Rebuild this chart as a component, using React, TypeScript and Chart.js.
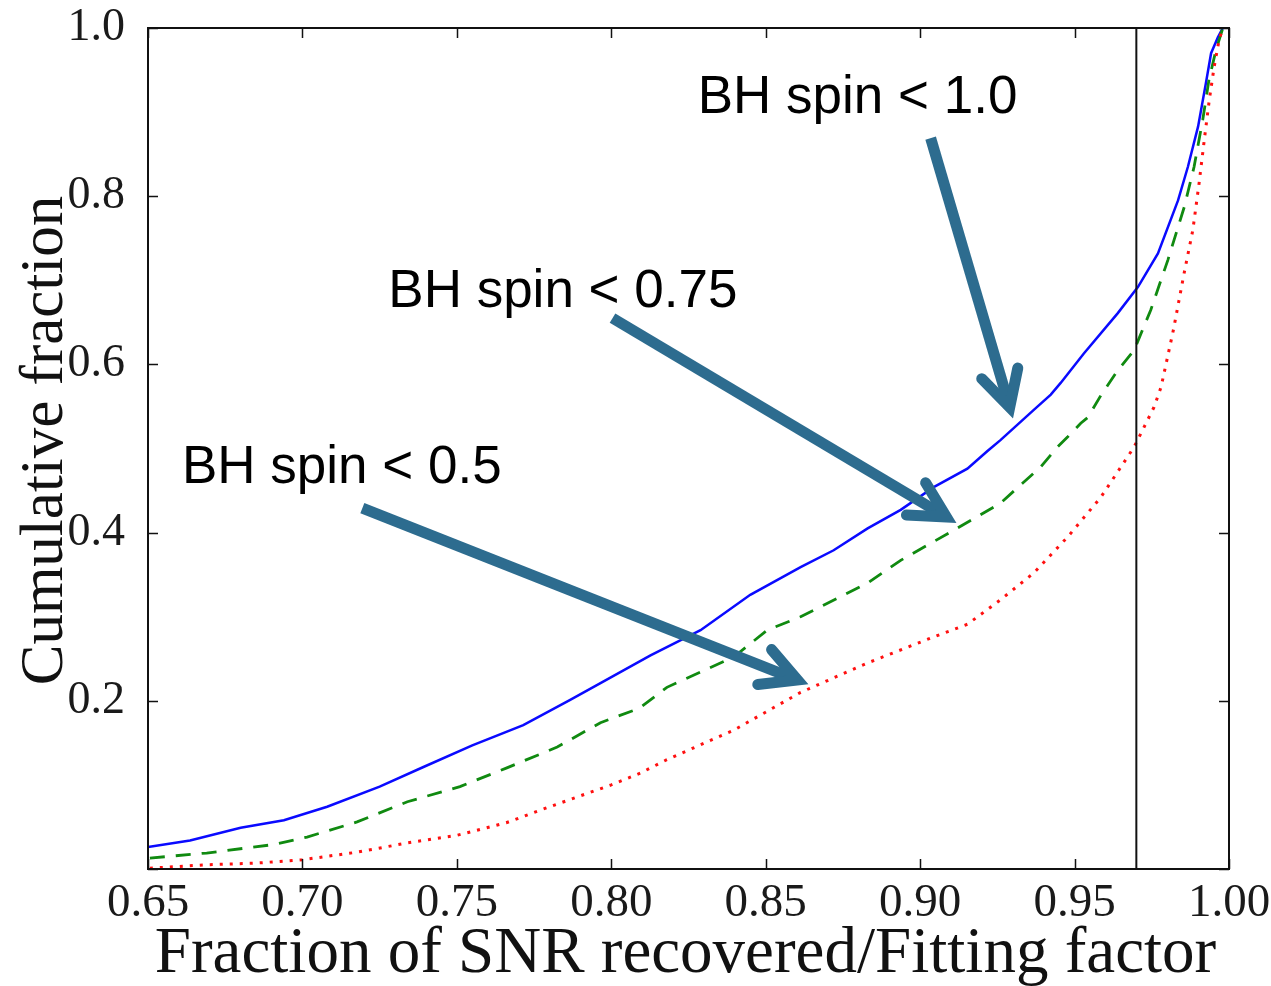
import React, { useEffect, useRef } from 'react';
import { Chart, registerables } from 'chart.js';

Chart.register(...registerables);

// ---- axis ticks ----
const X_TICKS = [0.65, 0.7, 0.75, 0.8, 0.85, 0.9, 0.95, 1.0];
const X_TICK_LABELS = ['0.65', '0.70', '0.75', '0.80', '0.85', '0.90', '0.95', '1.00'];
const Y_TICKS = [0.0, 0.2, 0.4, 0.6, 0.8, 1.0];
const Y_TICK_LABELS = ['', '0.2', '0.4', '0.6', '0.8', '1.0'];

const X_TITLE = 'Fraction of SNR recovered/Fitting factor';
const Y_TITLE = 'Cumulative fraction';

// ---- threshold line ----
const THRESHOLD_X = 0.97;

// ---- series names ----
const SERIES_NAMES = ['BH spin < 1.0', 'BH spin < 0.75', 'BH spin < 0.5'];

// ---- BH spin < 1.0 (blue, solid) ----
const BLUE_X = [0.65, 0.6636, 0.68, 0.694, 0.708, 0.725, 0.739, 0.755, 0.7715, 0.7867, 0.7965, 0.8127, 0.8289, 0.845, 0.8613, 0.872, 0.883, 0.8937, 0.9044, 0.9153, 0.9218, 0.926, 0.9368, 0.9423, 0.9455, 0.953, 0.964, 0.9705, 0.977, 0.9835, 0.9867, 0.99, 0.9925, 0.9942, 0.9964, 0.998];
const BLUE_Y = [0.026, 0.034, 0.049, 0.058, 0.074, 0.098, 0.121, 0.147, 0.171, 0.201, 0.221, 0.254, 0.284, 0.326, 0.359, 0.379, 0.405, 0.427, 0.454, 0.476, 0.497, 0.51, 0.546, 0.564, 0.578, 0.613, 0.661, 0.692, 0.732, 0.795, 0.835, 0.883, 0.934, 0.97, 0.989, 1.0];

// ---- BH spin < 0.75 (green, dashed) ----
const GREEN_X = [0.6506, 0.669, 0.6905, 0.7015, 0.7177, 0.734, 0.751, 0.766, 0.7825, 0.7965, 0.809, 0.818, 0.8396, 0.8505, 0.8613, 0.883, 0.8937, 0.91, 0.926, 0.939, 0.9445, 0.9478, 0.952, 0.9543, 0.9585, 0.964, 0.9693, 0.9747, 0.9802, 0.9855, 0.9887, 0.9915, 0.9935, 0.9958, 0.998];
const GREEN_Y = [0.013, 0.019, 0.029, 0.038, 0.056, 0.08, 0.098, 0.12, 0.145, 0.174, 0.191, 0.216, 0.252, 0.284, 0.3, 0.34, 0.367, 0.401, 0.435, 0.478, 0.502, 0.514, 0.53, 0.537, 0.563, 0.593, 0.617, 0.665, 0.724, 0.787, 0.835, 0.891, 0.938, 0.974, 1.0];

// ---- BH spin < 0.5 (red, dotted) ----
const RED_X = [0.6506, 0.669, 0.685, 0.7, 0.7177, 0.734, 0.75, 0.766, 0.777, 0.7877, 0.8, 0.8094, 0.818, 0.8396, 0.8613, 0.883, 0.9044, 0.9153, 0.926, 0.9368, 0.9478, 0.9585, 0.965, 0.9693, 0.9715, 0.9757, 0.978, 0.982, 0.9855, 0.9883, 0.9903, 0.992, 0.9936, 0.9952, 0.9968, 0.998];
const RED_Y = [0.001, 0.005, 0.007, 0.011, 0.02, 0.031, 0.04, 0.055, 0.07, 0.084, 0.1, 0.114, 0.13, 0.165, 0.21, 0.245, 0.276, 0.291, 0.32, 0.352, 0.395, 0.442, 0.478, 0.502, 0.518, 0.549, 0.573, 0.641, 0.709, 0.76, 0.815, 0.867, 0.914, 0.954, 0.986, 1.0];

// ---- annotation anchors (data coordinates) ----
const LABEL_X = [0.828, 0.7278, 0.661];
const LABEL_Y = [0.899, 0.668, 0.459];
const ARROW_TAIL_X = [0.9034, 0.8004, 0.7194];
const ARROW_TAIL_Y = [0.869, 0.655, 0.429];
const ARROW_TIP_X = [0.929, 0.9085, 0.8603];
const ARROW_TIP_Y = [0.549, 0.4186, 0.2247];

const SERIF = '"Liberation Serif", "DejaVu Serif", serif';
const SANS = '"Liberation Sans", Arial, sans-serif';
const ARROW_COLOR = 'rgb(45,108,143)';

const pts = (xs: number[], ys: number[]) => xs.map((x, i) => ({ x, y: ys[i] }));

const overlayPlugin = {
  id: 'overlay',
  afterDatasetsDraw(chart: any) {
    const { ctx, chartArea: a, scales } = chart;
    const xs = scales.x;
    const ys = scales.y;
    ctx.save();
    // frame
    ctx.strokeStyle = '#111';
    ctx.lineWidth = 2;
    ctx.strokeRect(a.left, a.top, a.right - a.left, a.bottom - a.top);
    // inward ticks on all sides
    ctx.lineWidth = 1.5;
    ctx.beginPath();
    X_TICKS.forEach((v) => {
      const px = Math.round(xs.getPixelForValue(v)) + 0.5;
      ctx.moveTo(px, a.bottom);
      ctx.lineTo(px, a.bottom - 10);
      ctx.moveTo(px, a.top);
      ctx.lineTo(px, a.top + 10);
    });
    Y_TICKS.forEach((v) => {
      const py = Math.round(ys.getPixelForValue(v)) + 0.5;
      ctx.moveTo(a.left, py);
      ctx.lineTo(a.left + 10, py);
      ctx.moveTo(a.right, py);
      ctx.lineTo(a.right - 10, py);
    });
    ctx.stroke();

    // arrows
    ctx.strokeStyle = ARROW_COLOR;
    ctx.lineWidth = 11;
    for (let i = 0; i < ARROW_TAIL_X.length; i++) {
      const tx = xs.getPixelForValue(ARROW_TAIL_X[i]);
      const ty = ys.getPixelForValue(ARROW_TAIL_Y[i]);
      const hx = xs.getPixelForValue(ARROW_TIP_X[i]);
      const hy = ys.getPixelForValue(ARROW_TIP_Y[i]);
      const ang = Math.atan2(hy - ty, hx - tx);
      const back = 6;
      ctx.lineCap = 'butt';
      ctx.beginPath();
      ctx.moveTo(tx, ty);
      ctx.lineTo(hx - back * Math.cos(ang), hy - back * Math.sin(ang));
      ctx.stroke();
      const L = 40;
      const spread = (28 * Math.PI) / 180;
      ctx.lineCap = 'round';
      ctx.lineJoin = 'miter';
      ctx.miterLimit = 10;
      ctx.beginPath();
      ctx.moveTo(hx - L * Math.cos(ang - spread), hy - L * Math.sin(ang - spread));
      ctx.lineTo(hx, hy);
      ctx.lineTo(hx - L * Math.cos(ang + spread), hy - L * Math.sin(ang + spread));
      ctx.stroke();
    }

    // labels
    ctx.fillStyle = '#000';
    ctx.font = `53px ${SANS}`;
    ctx.textAlign = 'left';
    ctx.textBaseline = 'alphabetic';
    for (let i = 0; i < SERIES_NAMES.length; i++) {
      ctx.fillText(SERIES_NAMES[i], xs.getPixelForValue(LABEL_X[i]), ys.getPixelForValue(LABEL_Y[i]));
    }

    // axis titles
    ctx.fillStyle = '#111';
    ctx.font = `65px ${SERIF}`;
    ctx.textAlign = 'center';
    ctx.fillText(X_TITLE, (a.left + a.right) / 2 - 3, 972);
    ctx.save();
    ctx.translate(62, (a.top + a.bottom) / 2 - 8);
    ctx.rotate(-Math.PI / 2);
    ctx.font = `61px ${SERIF}`;
    ctx.fillText(Y_TITLE, 0, 0);
    ctx.restore();
    ctx.restore();
  },
};

export default function App() {
  const ref = useRef<HTMLCanvasElement | null>(null);
  useEffect(() => {
    document.body.style.margin = '0';
    const canvas = ref.current;
    if (!canvas) return;
    const chart = new Chart(canvas, {
      type: 'scatter',
      data: {
        datasets: [
          {
            label: 'threshold',
            data: [
              { x: THRESHOLD_X, y: 0 },
              { x: THRESHOLD_X, y: 1 },
            ],
            showLine: true,
            borderColor: '#111',
            borderWidth: 2,
            pointRadius: 0,
          },
          {
            label: SERIES_NAMES[2],
            data: pts(RED_X, RED_Y),
            showLine: true,
            borderColor: '#ff1010',
            borderWidth: 3,
            borderDash: [3, 7],
            pointRadius: 0,
          },
          {
            label: SERIES_NAMES[1],
            data: pts(GREEN_X, GREEN_Y),
            showLine: true,
            borderColor: '#108a10',
            borderWidth: 2.8,
            borderDash: [15, 11],
            pointRadius: 0,
          },
          {
            label: SERIES_NAMES[0],
            data: pts(BLUE_X, BLUE_Y),
            showLine: true,
            borderColor: '#0a0aff',
            borderWidth: 2.5,
            pointRadius: 0,
          },
        ],
      },
      options: {
        animation: false,
        responsive: false,
        devicePixelRatio: 1,
        layout: { padding: { top: 28, right: 42, left: 0, bottom: 0 } },
        plugins: { legend: { display: false }, tooltip: { enabled: false } },
        scales: {
          x: {
            type: 'linear',
            min: 0.65,
            max: 1.0,
            grid: { display: false },
            border: { display: false },
            afterBuildTicks: (s: any) => {
              s.ticks = X_TICKS.map((v) => ({ value: v }));
            },
            afterFit: (s: any) => {
              s.height = 117;
              s.paddingLeft = 0;
              s.paddingRight = 0;
            },
            ticks: {
              autoSkip: false,
              maxRotation: 0,
              padding: 3,
              color: '#1a1a1a',
              font: { family: SERIF, size: 47, lineHeight: 1 },
              callback: (_v: any, i: number) => X_TICK_LABELS[i],
            },
          },
          y: {
            type: 'linear',
            min: 0,
            max: 1,
            grid: { display: false },
            border: { display: false },
            afterBuildTicks: (s: any) => {
              s.ticks = Y_TICKS.map((v) => ({ value: v }));
            },
            afterFit: (s: any) => {
              s.width = 148;
              s.paddingTop = 0;
              s.paddingBottom = 0;
            },
            ticks: {
              autoSkip: false,
              padding: 15,
              color: '#1a1a1a',
              font: { family: SERIF, size: 46, lineHeight: 1 },
              callback: (_v: any, i: number) => Y_TICK_LABELS[i],
            },
          },
        },
      },
      plugins: [overlayPlugin],
    });
    return () => chart.destroy();
  }, []);
  return <canvas ref={ref} width={1271} height={986} style={{ display: 'block' }} />;
}
